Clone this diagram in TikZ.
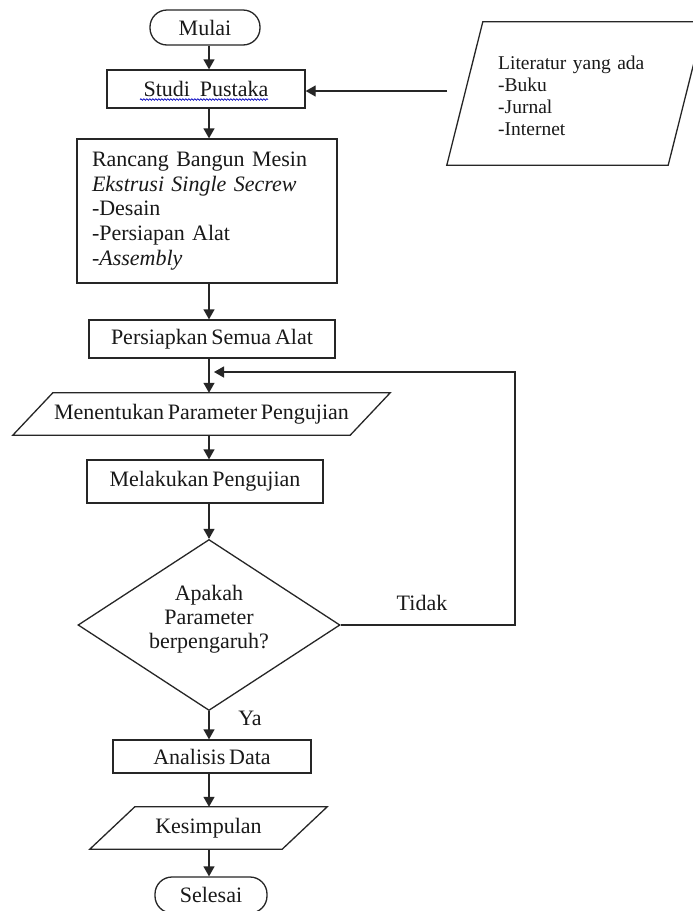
\documentclass[tikz,border=0pt]{standalone}
\usepackage{fontspec}
\setmainfont{Liberation Serif}[WordSpace=0.7]
\usetikzlibrary{shapes.geometric,arrows.meta,calc,decorations.pathmorphing}
\newcommand\paral[2]{%
  \draw[ln] (#1.south west) -- ($(#1.north west)+(#2,0)$) -- (#1.north east) -- ($(#1.south east)-(#2,0)$) -- cycle;}
\begin{document}
\begin{tikzpicture}[x=1pt,y=-1pt,
  ln/.style={line width=1.3pt, draw=black!85},
  every node/.style={font=\fontsize{22}{24.8}\selectfont, inner sep=0pt, text=black!90},
  box/.style={ln, rectangle},
  term/.style={ln, rectangle, rounded corners=17pt},
  plain/.style={rectangle},
  arr/.style={ln, -{Triangle[length=10pt,width=11pt]}}
]
\useasboundingbox (0,0) rectangle (693,911);
\clip (0,0) rectangle (693,911);
\fill[white] (0,0) rectangle (693,911);

\coordinate (ax) at (209,0);

% nodes
\node[term, minimum width=110pt, minimum height=35pt] (mulai) at (205,27.5) {Mulai};
\node[box, minimum width=198pt, minimum height=38pt] (studi) at (206,89) {Studi\hspace{6pt} Pustaka};
\draw[draw=blue!75!black, line width=0.7pt, decorate, decoration={snake, amplitude=0.8pt, segment length=3pt}] (140,99.5) -- (268,99.5);

\node[plain, minimum width=257pt, minimum height=143pt] (lit) at (575.5,93.5) {};
\paral{lit}{36}
\node[anchor=north west, text width=170pt, align=left, font=\fontsize{19.5}{22}\selectfont] (littext) at (498,56)
  {Literatur yang ada\\-Buku\\-Jurnal\\-Internet};
\coordinate (litout) at (447,91);

\node[box, minimum width=260pt, minimum height=144pt, text width=230pt, inner xsep=15pt, align=left] (ranc) at (207,211)
  {Rancang Bangun Mesin\\\textit{Ekstrusi Single Secrew}\\-Desain\\-Persiapan Alat\\\textit{-Assembly}};

\node[box, minimum width=246pt, minimum height=38pt] (siap) at (212,339) {Persiapkan Semua Alat};

\node[plain, minimum width=377pt, minimum height=42pt] (men) at (201.5,414) {Menentukan Parameter Pengujian};
\paral{men}{40}

\node[box, minimum width=236pt, minimum height=43pt] (mel) at (205,481.5) {Melakukan Pengujian};

\node[ln, diamond, aspect=1.52, minimum width=262pt, minimum height=171pt] (dia) at (209,625) {};
\node[align=center, font=\fontsize{22}{24}\selectfont] (dtx) at (209,619) {Apakah\\Parameter\\berpengaruh?};

\node[box, minimum width=198pt, minimum height=33pt] (ana) at (212,756.5) {Analisis Data};

\node[plain, minimum width=237pt, minimum height=42pt] (kes) at (208.5,828) {Kesimpulan};
\paral{kes}{45}

\node[term, minimum width=112pt, minimum height=36pt] (sel) at (211,895) {Selesai};

\node (tidak) at (422,603) {Tidak};
\node (ya) at (250,718) {Ya};

% connectors
\draw[arr] (mulai.south -| ax) -- (studi.north -| ax);
\draw[arr] (litout) -- (studi.east |- litout);
\draw[arr] (studi.south -| ax) -- (ranc.north -| ax);
\draw[arr] (ranc.south -| ax) -- (siap.north -| ax);
\draw[arr] (siap.south -| ax) -- (men.north -| ax);
\draw[arr] (men.south -| ax) -- (mel.north -| ax);
\draw[arr] (mel.south -| ax) -- (dia.north);
\draw[arr] (dia.south) -- (ana.north -| dia.south);
\draw[arr] (ana.south -| ax) -- (kes.north -| ax);
\draw[arr] (kes.south -| ax) -- (sel.north -| ax);

\coordinate (fbtop) at (515,372);
\coordinate (fbend) at (214,372);
\draw[arr] (dia.east) -| (fbtop) -- (fbend);
\end{tikzpicture}
\end{document}
